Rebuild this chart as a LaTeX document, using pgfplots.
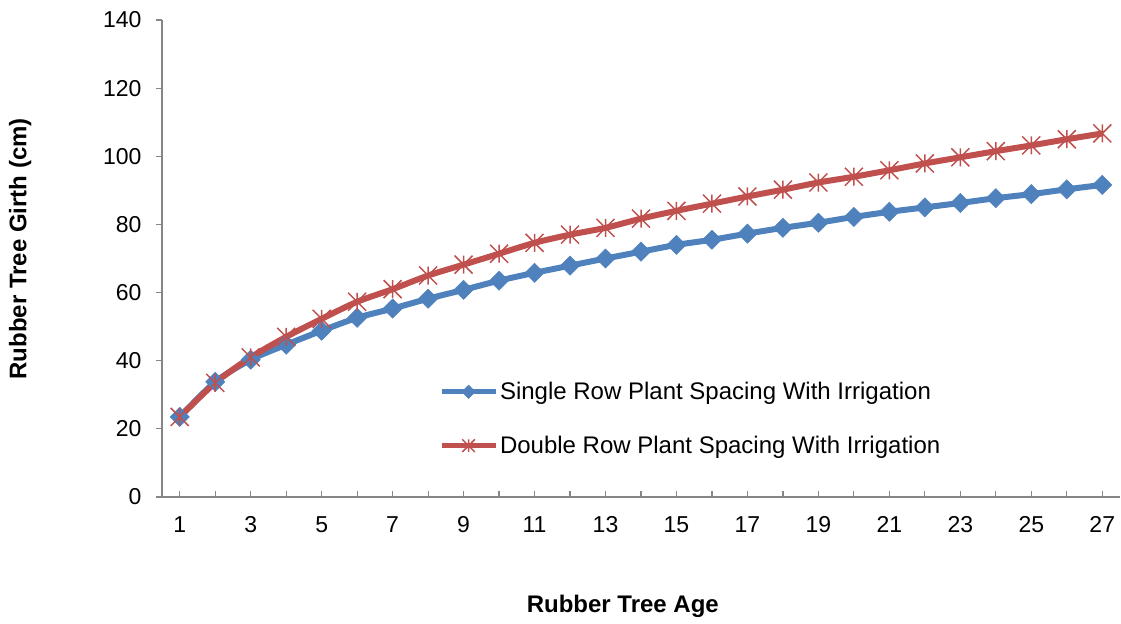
\documentclass[border=0pt]{standalone}
\usepackage{pgfplots}
\pgfplotsset{compat=1.18}
\usepackage{fontspec}
\setmainfont{Liberation Sans}

\definecolor{xlblue}{HTML}{4F81BD}
\definecolor{xlred}{HTML}{C0504D}
\definecolor{axgray}{HTML}{868686}

% Excel style star: an X with a vertical bar
\pgfdeclareplotmark{xlstar}{%
  \pgfpathmoveto{\pgfqpoint{-\pgfplotmarksize}{-\pgfplotmarksize}}%
  \pgfpathlineto{\pgfqpoint{\pgfplotmarksize}{\pgfplotmarksize}}%
  \pgfpathmoveto{\pgfqpoint{-\pgfplotmarksize}{\pgfplotmarksize}}%
  \pgfpathlineto{\pgfqpoint{\pgfplotmarksize}{-\pgfplotmarksize}}%
  \pgfpathmoveto{\pgfqpoint{0pt}{-\pgfplotmarksize}}%
  \pgfpathlineto{\pgfqpoint{0pt}{\pgfplotmarksize}}%
  \pgfusepathqstroke}

\pgfplotstableread{
age single double
1  23.5 23.5
2  33.8 33.5
3  40.3 41.0
4  44.7 47.0
5  48.8 52.3
6  52.6 57.3
7  55.3 61.0
8  58.2 65.0
9  60.8 68.2
10 63.5 71.4
11 65.8 74.6
12 67.9 77.0
13 70.0 79.0
14 72.0 81.7
15 74.0 84.0
16 75.5 86.1
17 77.3 88.2
18 79.0 90.2
19 80.5 92.3
20 82.2 94.0
21 83.7 95.9
22 85.0 97.9
23 86.3 99.7
24 87.7 101.5
25 88.9 103.2
26 90.3 105.0
27 91.6 106.7
}\girth

\begin{document}
\begin{tikzpicture}
\begin{axis}[
    name=ax,
    scale only axis,
    width=958bp, height=477bp,
    xmin=0.5, xmax=27.5,
    ymin=0, ymax=140,
    ytick={0,20,...,140},
    xtick={1,3,...,27},
    minor xtick={2,4,...,26},
    axis lines*=left,
    axis line style={axgray, line width=1.2bp, -},
    tick style={axgray, line width=1.2bp},
    xtick align=inside,
    ytick align=outside,
    major tick length=6bp,
    minor tick length=6bp,
    /pgf/number format/assume math mode=true,
    ticklabel style={font=\fontsize{23bp}{27bp}\selectfont},
    xticklabel style={yshift=-16bp},
    yticklabel style={xshift=-11bp},
    label style={font=\bfseries\fontsize{24bp}{28bp}\selectfont},
    xlabel={Rubber Tree Age},
    ylabel={Rubber Tree Girth (cm)},
    xlabel style={at={(axis description cs:0.481,-0.23)}, anchor=center},
    ylabel style={at={(axis description cs:-0.148,0.52)}, anchor=center},
    legend style={draw=none, fill=none, at={(0.289,0.245)}, anchor=north west,
        font=\fontsize{24bp}{28bp}\selectfont, row sep=31bp,
        inner sep=0pt},
    legend cell align=left,
    legend image code/.code={%
        \draw[#1, line width=5bp, every mark/.append style={scale=0.7}, mark repeat=2, mark phase=2]
            plot coordinates {(0bp,0bp) (27bp,0bp) (54bp,0bp)};},
]
\addplot[xlblue, line width=6bp, smooth, tension=0.45,
    mark=square*, mark size=6.8bp, mark options={rotate=45, solid, line width=0.5bp}]
    table[x=age, y=single] {\girth};
\addlegendentry{Single Row Plant Spacing With Irrigation}
\addplot[xlred, line width=6bp, smooth, tension=0.45,
    mark=xlstar, mark size=9bp, mark options={solid, line width=1.5bp}]
    table[x=age, y=double] {\girth};
\addlegendentry{Double Row Plant Spacing With Irrigation}
\end{axis}
\pgfresetboundingbox
\path[use as bounding box] ([shift={(-162bp,-127bp)}]ax.south west) rectangle ([shift={(959bp,497bp)}]ax.south west);
\end{tikzpicture}
\end{document}
